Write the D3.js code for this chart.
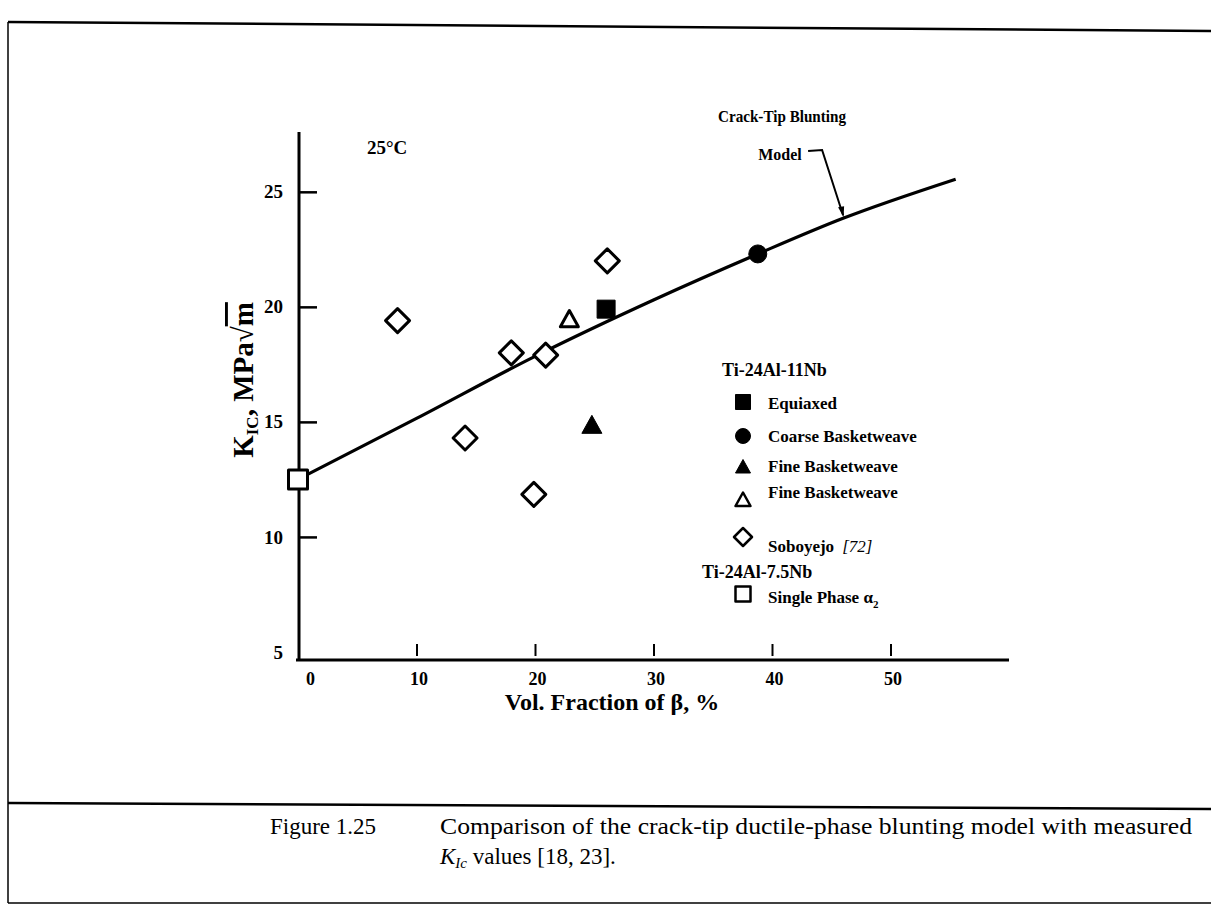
<!DOCTYPE html>
<html>
<head>
<meta charset="utf-8">
<script src="https://cdn.jsdelivr.net/npm/d3@7"></script>
<style>
  body { margin: 0; background: #fff; }
  svg { display: block; }
</style>
</head>
<body>
<svg id="fig" width="1211" height="908"></svg>
<script>
// ---- data -------------------------------------------------------------
const xTicks = [0, 10, 20, 30, 40, 50];
const yTicks = [5, 10, 15, 20, 25];

// measured fracture toughness, K_IC (MPa·√m) vs volume fraction of β (%)
const equiaxedX = [26.0];
const equiaxedY = [19.9];
const coarseX = [38.8];
const coarseY = [22.3];
const fineSolidX = [24.8];
const fineSolidY = [14.85];
const fineOpenX = [22.9];
const fineOpenY = [19.45];
const soboyejoX = [8.4, 14.1, 18.0, 19.9, 20.9, 26.1];
const soboyejoY = [19.4, 14.3, 18.0, 11.85, 17.9, 22.0];
const singlePhaseX = [0];
const singlePhaseY = [12.5];

// crack-tip blunting model curve
const modelX = [0, 10, 20, 30, 38.8, 46, 55.5];
const modelY = [12.5, 15.15, 17.85, 20.3, 22.3, 23.85, 25.55];

const legendLabels = ["Equiaxed", "Coarse Basketweave", "Fine Basketweave",
                      "Fine Basketweave", "Soboyejo", "Single Phase α"];

// ---- layout -----------------------------------------------------------
const svg = d3.select("#fig");
const x = d3.scaleLinear().domain([0, 60]).range([298, 1009]);
const y = d3.scaleLinear().domain([4.65, 27.6]).range([660, 132]);
const FONT = '"Liberation Serif", "DejaVu Serif", serif';

// page frame and caption rule
const frame = svg.append("g").attr("stroke", "#000").attr("fill", "none");
frame.append("line").attr("x1", 8).attr("y1", 22).attr("x2", 1211).attr("y2", 31).attr("stroke-width", 2.5);
frame.append("line").attr("x1", 8).attr("y1", 22).attr("x2", 8).attr("y2", 903).attr("stroke-width", 1.5);
frame.append("line").attr("x1", 8).attr("y1", 803).attr("x2", 1211).attr("y2", 809).attr("stroke-width", 2.5);
frame.append("line").attr("x1", 8).attr("y1", 903).attr("x2", 1211).attr("y2", 903).attr("stroke-width", 1.5);

// ---- axes -------------------------------------------------------------
const yAxis = d3.axisLeft(y).tickValues(yTicks).tickSize(-18).tickPadding(16)
  .tickFormat(d3.format("d"));
const gy = svg.append("g").attr("transform", `translate(${x(0) + 1},0)`).call(yAxis);
gy.select(".domain").remove();
gy.append("line").attr("x1", 0).attr("x2", 0).attr("y1", y.range()[1]).attr("y2", y.range()[0])
  .attr("stroke", "#000").attr("stroke-width", 3);
gy.selectAll(".tick line").attr("stroke", "#000").attr("stroke-width", 2.5)
  .filter(d => d === 5).remove();
gy.selectAll(".tick text").attr("font-family", FONT).attr("font-weight", "bold")
  .attr("font-size", 19).attr("fill", "#000");

const xAxis = d3.axisBottom(x).tickValues(xTicks).tickSize(-16).tickPadding(12)
  .tickFormat(d3.format("d"));
const gx = svg.append("g").attr("transform", `translate(0,${y(4.65)})`).call(xAxis);
gx.select(".domain").remove();
gx.append("line").attr("x1", x(0) - 2).attr("x2", x(60)).attr("y1", 0).attr("y2", 0)
  .attr("stroke", "#000").attr("stroke-width", 3);
gx.selectAll(".tick line").attr("stroke", "#000").attr("stroke-width", 2)
  .attr("y1", -4).filter(d => d === 0).remove();
gx.selectAll(".tick text").attr("font-family", FONT).attr("font-weight", "bold")
  .attr("font-size", 18).attr("fill", "#000")
  .attr("dx", d => d === 0 ? 12 : 2);

// axis titles
svg.append("text").attr("x", 612).attr("y", 710).attr("text-anchor", "middle")
  .attr("font-family", FONT).attr("font-weight", "bold").attr("font-size", 24)
  .text("Vol. Fraction of β, %");

const yTitle = svg.append("text")
  .attr("transform", "translate(253,380) rotate(-90)")
  .attr("text-anchor", "middle")
  .attr("font-family", FONT).attr("font-weight", "bold").attr("font-size", 29);
yTitle.append("tspan").text("K");
yTitle.append("tspan").attr("font-size", 17).attr("dy", 5).text("IC");
yTitle.append("tspan").attr("dy", -5).text(", MPa√");
yTitle.append("tspan").attr("text-decoration", "overline").text("m");

svg.append("text").attr("x", 367).attr("y", 154)
  .attr("font-family", FONT).attr("font-weight", "bold").attr("font-size", 19)
  .text("25°C");

// ---- model curve ------------------------------------------------------
const modelPts = modelX.map((v, i) => [v, modelY[i]]);
svg.append("path").datum(modelPts)
  .attr("fill", "none").attr("stroke", "#000").attr("stroke-width", 3.2)
  .attr("d", d3.line().x(d => x(d[0])).y(d => y(d[1])).curve(d3.curveMonotoneX));

// annotation for the model curve
const tipX = x(46), tipY = y(23.85) - 3;
svg.append("text").attr("x", 782).attr("y", 122).attr("text-anchor", "middle")
  .attr("font-family", FONT).attr("font-weight", "bold").attr("font-size", 16)
  .attr("textLength", 128).attr("lengthAdjust", "spacingAndGlyphs")
  .text("Crack-Tip Blunting");
svg.append("text").attr("x", 780).attr("y", 160).attr("text-anchor", "middle")
  .attr("font-family", FONT).attr("font-weight", "bold").attr("font-size", 16)
  .text("Model");
svg.append("path").attr("fill", "none").attr("stroke", "#000").attr("stroke-width", 2)
  .attr("d", `M${tipX - 35},151 L${tipX - 21},150 L${tipX},${tipY}`);
svg.append("path").attr("fill", "#000")
  .attr("d", `M${tipX + 0.5},${tipY + 2} L${tipX - 5},${tipY - 8} L${tipX + 1},${tipY - 9} Z`);

// ---- markers ----------------------------------------------------------
const shapes = {
  diamond: s => `M0,${-s}L${s},0L0,${s}L${-s},0Z`,
  triangle: s => `M0,${-s}L${s},${s * 0.8}L${-s},${s * 0.8}Z`,
  square: s => `M${-s},${-s}H${s}V${s}H${-s}Z`,
  circle: s => d3.arc()({innerRadius: 0, outerRadius: s, startAngle: 0, endAngle: 2 * Math.PI})
};

const series = [
  {xs: equiaxedX,    ys: equiaxedY,    shape: "square",   filled: true,  size: 9},
  {xs: coarseX,      ys: coarseY,      shape: "circle",   filled: true,  size: 9},
  {xs: fineSolidX,   ys: fineSolidY,   shape: "triangle", filled: true,  size: 10},
  {xs: fineOpenX,    ys: fineOpenY,    shape: "triangle", filled: false, size: 9},
  {xs: soboyejoX,    ys: soboyejoY,    shape: "diamond",  filled: false, size: 12},
  {xs: singlePhaseX, ys: singlePhaseY, shape: "square",   filled: false, size: 9.5}
];

function drawMarker(g, s, sz) {
  return g.append("path")
    .attr("d", shapes[s.shape](sz))
    .attr("fill", s.filled ? "#000" : "#fff")
    .attr("stroke", "#000")
    .attr("stroke-width", s.filled ? 1 : 3)
    .attr("stroke-linejoin", "round");
}

series.forEach(s => {
  s.xs.forEach((v, i) => {
    const g = svg.append("g").attr("transform", `translate(${x(v)},${y(s.ys[i])})`);
    drawMarker(g, s, s.size);
  });
});

// ---- legend -----------------------------------------------------------
const lg = svg.append("g").attr("font-family", FONT).attr("font-weight", "bold");
lg.append("text").attr("x", 722).attr("y", 376).attr("font-size", 18).text("Ti-24Al-11Nb");
const rowY = [402, 436, 467, 500, 537, 594];
const rowTextY = [409, 442, 472, 498, 552, 603];
series.forEach((s, i) => {
  const g = lg.append("g").attr("transform", `translate(743,${rowY[i]})`);
  drawMarker(g, s, s.shape === "diamond" ? 9 : 7.5).attr("stroke-width", s.filled ? 1 : 2.5);
  const t = lg.append("text").attr("x", 768).attr("y", rowTextY[i]).attr("font-size", 17)
    .text(legendLabels[i]);
  if (i === 4) {
    t.append("tspan").attr("font-style", "italic").attr("font-weight", "normal")
      .attr("dx", 8).text("[72]");
  }
  if (i === 5) {
    t.append("tspan").attr("font-size", 11).attr("dy", 5).text("2");
  }
});
lg.append("text").attr("x", 702).attr("y", 578).attr("font-size", 18).text("Ti-24Al-7.5Nb");

// ---- caption ----------------------------------------------------------
const cap = svg.append("g").attr("font-family", FONT).attr("font-size", 23);
cap.append("text").attr("x", 270).attr("y", 834).text("Figure 1.25");
cap.append("text").attr("x", 440).attr("y", 834).attr("textLength", 752)
  .attr("lengthAdjust", "spacingAndGlyphs")
  .text("Comparison of the crack-tip ductile-phase blunting model with measured");
const l2 = cap.append("text").attr("x", 440).attr("y", 864);
l2.append("tspan").attr("font-style", "italic").text("K");
l2.append("tspan").attr("font-style", "italic").attr("font-size", 15).attr("dy", 4).text("Ic");
l2.append("tspan").attr("dy", -4).text(" values [18, 23].");
</script>
</body>
</html>
